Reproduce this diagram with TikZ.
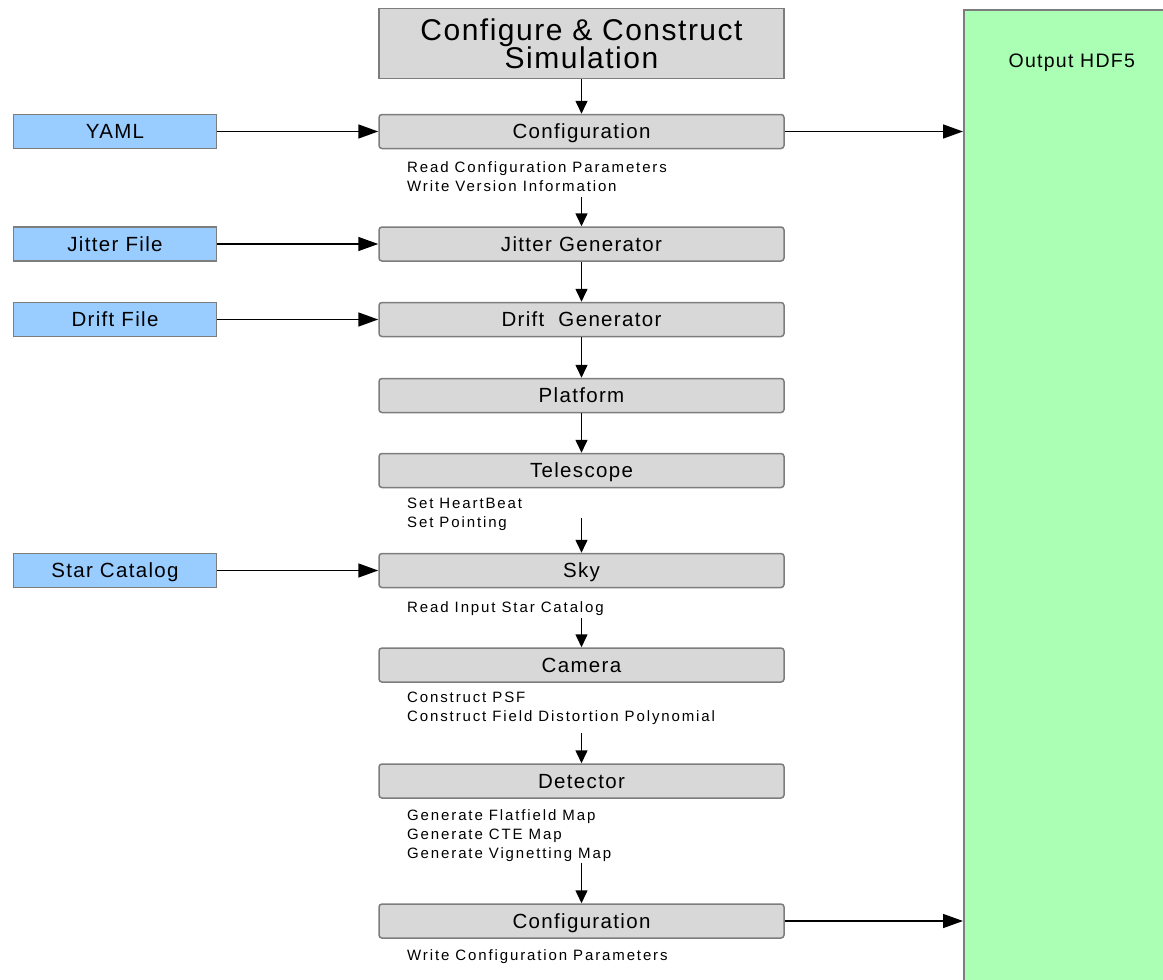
\documentclass[tikz,border=0pt]{standalone}
\usepackage{fontspec}
\setmainfont{Liberation Sans}
\newfontfamily\stagefont{Liberation Sans}[LetterSpace=6.5]
\newfontfamily\notefont{Liberation Sans}[LetterSpace=12.5]
\newfontfamily\headfont{Liberation Sans}[LetterSpace=5]
\usetikzlibrary{arrows.meta}

\definecolor{stagegray}{RGB}{216,216,216}
\definecolor{boxline}{RGB}{125,125,125}
\definecolor{fileblue}{RGB}{153,204,255}
\definecolor{hdfgreen}{RGB}{170,255,180}

\tikzset{
  stage/.style={draw=boxline, fill=stagegray, line width=1.5pt, rounded corners=3pt,
    minimum width=405pt, minimum height=34pt, inner sep=0pt,
    text height=14.7pt, text depth=0pt,
    font=\stagefont\fontsize{20.5}{22}\selectfont},
  infile/.style={stage, fill=fileblue, rounded corners=0pt, minimum width=203pt},
  note/.style={anchor=north west, inner sep=0pt, align=left,
    font=\notefont\fontsize{15}{19}\selectfont},
  flow/.style={-{Triangle[length=13pt,width=12pt]}, line width=1.5pt},
  feed/.style={-{Triangle[length=20pt,width=14pt]}, line width=1.5pt}
}

\begin{document}
\begin{tikzpicture}[x=1pt,y=-1pt]
\useasboundingbox (0,0) rectangle (1163,980);

\node[draw=boxline, fill=hdfgreen, line width=1.5pt, anchor=north west,
  minimum width=216pt, minimum height=1000pt, inner sep=0pt,
  label={[font=\stagefont\fontsize{19.5}{22}\selectfont, yshift=-54pt, anchor=center]north:Output HDF5}]
  (hdf) at (963,9) {};

\node[stage, rounded corners=0pt, minimum height=70pt, align=center, text height=, text depth=,
  font=\headfont\fontsize{30}{28}\selectfont] (sim) at (581.5,43.5) {Configure \& Construct\\Simulation};
\node[stage] (cfgA) at (581.5,131.5) {Configuration};
\node[stage] (jitter) at (581.5,244) {Jitter Generator};
\node[stage] (drift) at (581.5,319.5) {Drift~ Generator};
\node[stage] (platform) at (581.5,395.5) {Platform};
\node[stage] (telescope) at (581.5,470.5) {Telescope};
\node[stage] (sky) at (581.5,570.5) {Sky};
\node[stage] (camera) at (581.5,665) {Camera};
\node[stage] (detector) at (581.5,781) {Detector};
\node[stage] (cfgB) at (581.5,921) {Configuration};

\node[infile] (yaml) at (115,131.5) {YAML};
\node[infile] (jitterfile) at (115,244) {Jitter File};
\node[infile] (driftfile) at (115,319.5) {Drift File};
\node[infile] (starcat) at (115,570.5) {Star Catalog};

\node[note] (cfgAnote) at (407,161) {Read Configuration Parameters\\Write Version Information};
\node[note] (telnote) at (407,498) {Set HeartBeat\\Set Pointing};
\node[note] (skynote) at (407,601) {Read Input Star Catalog};
\node[note] (camnote) at (407,692) {Construct PSF\\Construct Field Distortion Polynomial};
\node[note] (detnote) at (407,809) {Generate Flatfield Map\\Generate CTE Map\\Generate Vignetting Map};
\node[note] (cfgBnote) at (407,949) {Write Configuration Parameters};

\draw[flow] (sim) -- (cfgA);
\draw[flow, shorten <=48pt] (cfgA) -- (jitter);
\draw[flow] (jitter) -- (drift);
\draw[flow] (drift) -- (platform);
\draw[flow] (platform) -- (telescope);
\draw[flow, shorten <=30pt] (telescope) -- (sky);
\draw[flow, shorten <=30pt] (sky) -- (camera);
\draw[flow, shorten <=50pt] (camera) -- (detector);
\draw[flow, shorten <=64pt] (detector) -- (cfgB);

\draw[feed] (yaml) -- (cfgA);
\draw[feed] (jitterfile) -- (jitter);
\draw[feed] (driftfile) -- (drift);
\draw[feed] (starcat) -- (sky);

\draw[feed] (cfgA.east) -- (cfgA.east -| hdf.west);
\draw[feed] (cfgB.east) -- (cfgB.east -| hdf.west);

\end{tikzpicture}
\end{document}
